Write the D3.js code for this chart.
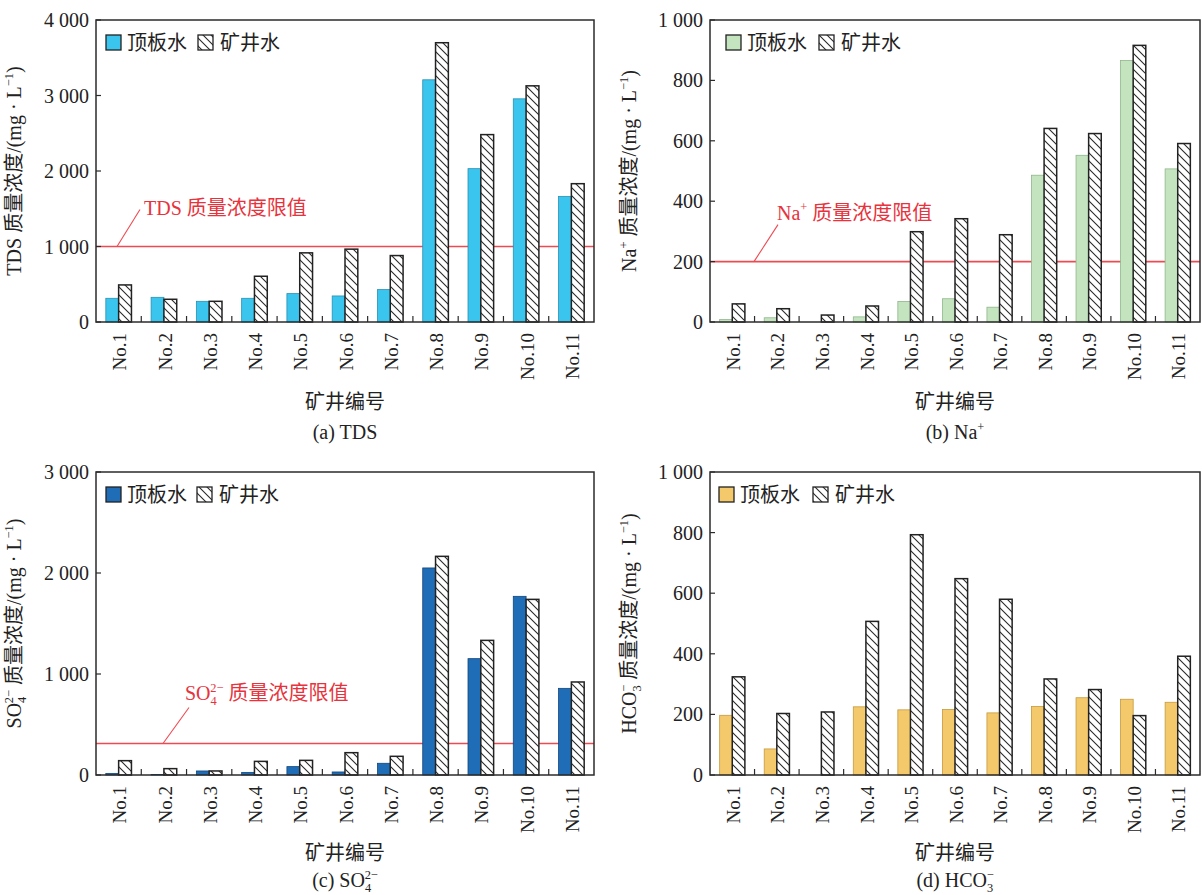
<!DOCTYPE html>
<html>
<head>
<meta charset="utf-8">
<script src="https://cdn.jsdelivr.net/npm/d3@7"></script>
<style>
  html, body { margin: 0; padding: 0; background: #fff; }
  svg { display: block; }
</style>
</head>
<body>
<svg id="chart" width="1202" height="895"></svg>
<script>
// Mine numbers along the x axis
const wells = ["No.1", "No.2", "No.3", "No.4", "No.5", "No.6", "No.7", "No.8", "No.9", "No.10", "No.11"];
const seriesNames = ["顶板水", "矿井水"];

// TDS (mg/L)
const tdsRoof = [314, 327, 274, 314, 376, 345, 429, 3208, 2031, 2956, 1664];
const tdsMine = [491, 301, 274, 606, 916, 965, 880, 3699, 2482, 3128, 1832];
const tdsLimit = 1000;
const tdsTicks = [0, 1000, 2000, 3000, 4000];

// Na+ (mg/L)
const naRoof = [8, 14, 0, 17, 68, 77, 49, 486, 552, 866, 507];
const naMine = [60, 44, 23, 53, 299, 342, 289, 641, 624, 916, 591];
const naLimit = 200;
const naTicks = [0, 200, 400, 600, 800, 1000];

// SO4 2- (mg/L)
const so4Roof = [16, 5, 40, 26, 83, 30, 116, 2050, 1152, 1769, 858];
const so4Mine = [142, 63, 40, 135, 145, 221, 185, 2165, 1333, 1739, 921];
const so4Limit = 312;
const so4Ticks = [0, 1000, 2000, 3000];

// HCO3- (mg/L)
const hco3Roof = [197, 86, 0, 225, 215, 216, 205, 226, 255, 250, 240];
const hco3Mine = [324, 203, 208, 507, 793, 648, 580, 317, 282, 196, 392];
const hco3Ticks = [0, 200, 400, 600, 800, 1000];

const SERIF = "'Liberation Serif', 'Times New Roman', 'Noto Sans CJK SC', serif";
const FS = 20;
const svg = d3.select("#chart");

// diagonal hatch used for the mine-water bars
const defs = svg.append("defs");
const pat = defs.append("pattern")
  .attr("id", "hatch").attr("patternUnits", "userSpaceOnUse")
  .attr("width", 8).attr("height", 8);
pat.append("rect").attr("width", 8).attr("height", 8).attr("fill", "#fff");
pat.append("path")
  .attr("d", "M-2,-2L10,10M-2,6L2,10M6,-2L10,2")
  .attr("stroke", "#2a2a2a").attr("stroke-width", 1.1);

const fmt = v => {
  const s = String(v);
  return s.length > 3 ? s.slice(0, s.length - 3) + " " + s.slice(-3) : s;
};

// text with superscripts / subscripts built from segments
function rich(sel, segs, size) {
  let shift = 0;
  segs.forEach(s => {
    const target = s.sup ? -0.42 * size : s.sub ? 0.24 * size : 0;
    const ts = sel.append("tspan").text(s.t)
      .attr("dy", target - shift)
      .attr("font-size", (s.sup || s.sub) ? size * 0.62 : size);
    if (s.dx) ts.attr("dx", s.dx);
    shift = target;
  });
}

function drawPanel(p) {
  const g = svg.append("g");
  const x = d3.scaleBand().domain(wells).range([p.left, p.right]).paddingInner(0).paddingOuter(0);
  const y = d3.scaleLinear().domain([0, p.max]).range([p.bottom, p.top]);
  const bw = x.bandwidth() * 0.283;

  // limit line (drawn under the bars)
  if (p.limit != null) {
    g.append("line")
      .attr("x1", p.left).attr("x2", p.right)
      .attr("y1", y(p.limit)).attr("y2", y(p.limit))
      .attr("stroke", "#ee4a52").attr("stroke-width", 1.6);
  }

  // bars
  const groups = g.selectAll("g.grp").data(wells).join("g").attr("class", "grp");
  groups.append("rect")
    .attr("x", d => x(d) + x.bandwidth() / 2 - bw)
    .attr("width", bw)
    .attr("y", (d, i) => y(p.roof[i]))
    .attr("height", (d, i) => y(0) - y(p.roof[i]))
    .attr("fill", p.color)
    .attr("stroke", p.edge).attr("stroke-width", 0.8)
    .attr("stroke-opacity", (d, i) => p.roof[i] > 0 ? 1 : 0);
  groups.append("rect")
    .attr("x", d => x(d) + x.bandwidth() / 2)
    .attr("width", bw)
    .attr("y", (d, i) => y(p.mine[i]))
    .attr("height", (d, i) => y(0) - y(p.mine[i]))
    .attr("fill", "url(#hatch)")
    .attr("stroke", "#222").attr("stroke-width", 1.5);

  // leader + limit annotation
  if (p.limit != null) {
    const ly = y(p.limit);
    const a = p.annot;
    g.append("line")
      .attr("x1", a.x0).attr("y1", ly)
      .attr("x2", a.x0 + a.dx).attr("y2", ly - a.dy)
      .attr("stroke", "#ee4a52").attr("stroke-width", 1.1);
    const t = g.append("text")
      .attr("x", a.tx).attr("y", ly - a.ty)
      .attr("font-family", SERIF).attr("font-size", FS)
      .attr("fill", "#e8323c");
    rich(t, a.segs, FS);
  }

  // frame
  g.append("rect")
    .attr("x", p.left).attr("y", p.top)
    .attr("width", p.right - p.left).attr("height", p.bottom - p.top)
    .attr("fill", "none").attr("stroke", "#2b2b2b").attr("stroke-width", 1.5);

  // y ticks (inward) and labels
  g.selectAll("line.yt").data(p.ticks).join("line").attr("class", "yt")
    .attr("x1", p.left).attr("x2", p.left + 5)
    .attr("y1", d => y(d)).attr("y2", d => y(d))
    .attr("stroke", "#2b2b2b").attr("stroke-width", 1.2);
  g.selectAll("text.yl").data(p.ticks).join("text").attr("class", "yl")
    .attr("x", p.left - 7).attr("y", d => y(d))
    .attr("dy", "0.35em").attr("text-anchor", "end")
    .attr("font-family", SERIF).attr("font-size", FS).attr("fill", "#222")
    .text(fmt);

  // x ticks at group boundaries (inward)
  g.selectAll("line.xt").data(wells.slice(1)).join("line").attr("class", "xt")
    .attr("x1", d => x(d)).attr("x2", d => x(d))
    .attr("y1", p.bottom).attr("y2", p.bottom - 6)
    .attr("stroke", "#2b2b2b").attr("stroke-width", 1.2);

  // rotated x labels
  g.selectAll("text.xl").data(wells).join("text").attr("class", "xl")
    .attr("transform", d => `translate(${x(d) + x.bandwidth() / 2 + 1},${p.bottom + 11}) rotate(-90)`)
    .attr("text-anchor", "end").attr("dy", "0.35em")
    .attr("font-family", SERIF).attr("font-size", 19).attr("fill", "#222")
    .text(d => d);

  const cx = (p.left + p.right) / 2;
  g.append("text")
    .attr("x", cx).attr("y", p.bottom + p.titleOff)
    .attr("text-anchor", "middle")
    .attr("font-family", SERIF).attr("font-size", FS).attr("fill", "#222")
    .text("矿井编号");
  const cap = g.append("text")
    .attr("x", cx).attr("y", p.bottom + p.capOff)
    .attr("text-anchor", "middle")
    .attr("font-family", SERIF).attr("font-size", FS).attr("fill", "#222");
  rich(cap, p.caption, FS);

  // y title
  const yt = g.append("text")
    .attr("transform", `translate(${p.ytx},${(p.top + p.bottom) / 2}) rotate(-90)`)
    .attr("text-anchor", "middle").attr("dy", "0.35em")
    .attr("font-family", SERIF).attr("font-size", FS).attr("fill", "#222");
  rich(yt, p.ytitle, FS);

  // legend
  const L = p.legend;
  g.append("rect").attr("x", L.x).attr("y", L.y).attr("width", 15).attr("height", 15)
    .attr("fill", p.color).attr("stroke", "#222").attr("stroke-width", 1.3);
  g.append("text").attr("x", L.x + 21).attr("y", L.y + 7.5).attr("dy", "0.36em")
    .attr("font-family", SERIF).attr("font-size", FS).attr("fill", "#222")
    .text(seriesNames[0]);
  g.append("rect").attr("x", L.x2).attr("y", L.y).attr("width", 15).attr("height", 15)
    .attr("fill", "url(#hatch)").attr("stroke", "#222").attr("stroke-width", 1.3);
  g.append("text").attr("x", L.x2 + 22).attr("y", L.y + 7.5).attr("dy", "0.36em")
    .attr("font-family", SERIF).attr("font-size", FS).attr("fill", "#222")
    .text(seriesNames[1]);
}

const unit = [{ t: "质量浓度/(mg · L" }, { t: "−1", sup: true }, { t: ")" }];

drawPanel({
  left: 96, right: 594, top: 20, bottom: 322, max: 4000,
  roof: tdsRoof, mine: tdsMine, ticks: tdsTicks, limit: tdsLimit,
  color: "#3ac5ee", edge: "#2a8fb0",
  ytx: 21, titleOff: 87, capOff: 117,
  ytitle: [{ t: "TDS " }].concat(unit),
  caption: [{ t: "(a) TDS" }],
  legend: { x: 106, y: 35, x2: 198 },
  annot: { x0: 117, dx: 23, dy: 37, tx: 144, ty: 32,
           segs: [{ t: "TDS 质量浓度限值" }] }
});

drawPanel({
  left: 710, right: 1200, top: 20, bottom: 322, max: 1000,
  roof: naRoof, mine: naMine, ticks: naTicks, limit: naLimit,
  color: "#c4e3bf", edge: "#8fb68a",
  ytx: 636, titleOff: 87, capOff: 117,
  ytitle: [{ t: "Na" }, { t: "+", sup: true }, { t: " " }].concat(unit),
  caption: [{ t: "(b) Na" }, { t: "+", sup: true }],
  legend: { x: 726, y: 35, x2: 819 },
  annot: { x0: 754, dx: 24, dy: 37, tx: 777, ty: 42,
           segs: [{ t: "Na" }, { t: "+", sup: true }, { t: " 质量浓度限值" }] }
});

drawPanel({
  left: 96, right: 594, top: 472, bottom: 775, max: 3000,
  roof: so4Roof, mine: so4Mine, ticks: so4Ticks, limit: so4Limit,
  color: "#1f6db6", edge: "#12467a",
  ytx: 21, titleOff: 85, capOff: 112,
  ytitle: [{ t: "SO" }, { t: "4", sub: true }, { t: "2−", sup: true, dx: -6.5 }, { t: " " }].concat(unit),
  caption: [{ t: "(c) SO" }, { t: "4", sub: true }, { t: "2−", sup: true, dx: -6.5 }],
  legend: { x: 106, y: 487, x2: 197 },
  annot: { x0: 163, dx: 26, dy: 36, tx: 185, ty: 43,
           segs: [{ t: "SO" }, { t: "4", sub: true }, { t: "2−", sup: true, dx: -6.5 }, { t: " 质量浓度限值" }] }
});

drawPanel({
  left: 710, right: 1200, top: 472, bottom: 775, max: 1000,
  roof: hco3Roof, mine: hco3Mine, ticks: hco3Ticks, limit: null,
  color: "#f4c96c", edge: "#c49a3e",
  ytx: 636, titleOff: 85, capOff: 112,
  ytitle: [{ t: "HCO" }, { t: "3", sub: true }, { t: "−", sup: true, dx: -6.5 }, { t: " " }].concat(unit),
  caption: [{ t: "(d) HCO" }, { t: "3", sub: true }, { t: "−", sup: true, dx: -6.5 }],
  legend: { x: 719, y: 487, x2: 813 }
});
</script>
</body>
</html>
